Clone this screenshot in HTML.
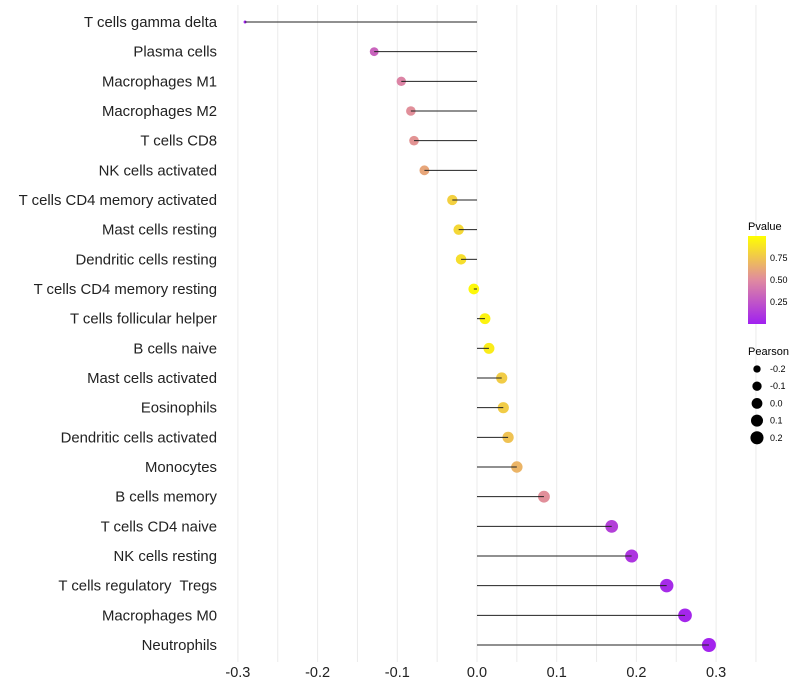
<!DOCTYPE html>
<html><head><meta charset="utf-8"><style>
body{margin:0;background:#fff;font-family:"Liberation Sans",sans-serif}
text{white-space:pre}
</style></head><body>
<svg id="c" width="800" height="700" style="display:block">
<defs><linearGradient id="pg" x1="0" y1="1" x2="0" y2="0">
<stop offset="0" stop-color="#a020f0"/><stop offset="0.5" stop-color="#e08aa0"/><stop offset="1" stop-color="#ffff00"/></linearGradient></defs>
<g id="grid"></g><g id="marks"></g><g id="labels"></g>
<g>
<text x="748" y="230" font-size="11">Pvalue</text>
<rect x="748" y="236" width="18" height="88" fill="url(#pg)"/>
<text x="770" y="261" font-size="9">0.75</text>
<text x="770" y="283" font-size="9">0.50</text>
<text x="770" y="305" font-size="9">0.25</text>
</g>
<g id="sizeLegend">
<text x="748" y="355" font-size="11">Pearson</text>
</g>
</svg>
<script>
const categories=["T cells gamma delta","Plasma cells","Macrophages M1","Macrophages M2","T cells CD8","NK cells activated","T cells CD4 memory activated","Mast cells resting","Dendritic cells resting","T cells CD4 memory resting","T cells follicular helper","B cells naive","Mast cells activated","Eosinophils","Dendritic cells activated","Monocytes","B cells memory","T cells CD4 naive","NK cells resting","T cells regulatory  Tregs","Macrophages M0","Neutrophils"];
const pearson=[-0.291,-0.129,-0.095,-0.083,-0.079,-0.066,-0.031,-0.023,-0.020,-0.004,0.010,0.015,0.031,0.033,0.039,0.050,0.084,0.169,0.194,0.238,0.261,0.291];
const pvalue=[0.0,0.32,0.47,0.52,0.54,0.62,0.8,0.83,0.86,0.97,0.95,0.92,0.78,0.78,0.74,0.68,0.52,0.15,0.1,0.05,0.03,0.02];
const xTicks=[-0.3,-0.2,-0.1,0.0,0.1,0.2,0.3];
const xTickLabels=["-0.3","-0.2","-0.1","0.0","0.1","0.2","0.3"];
const sizeLegend=[-0.2,-0.1,0.0,0.1,0.2];
const sizeLegendLabels=["-0.2","-0.1","0.0","0.1","0.2"];
const NS="http://www.w3.org/2000/svg";
const x=v=>477+v*797;
const y=i=>22+i*(623/21);
const r=v=>1.5+5.5*Math.sqrt(Math.max(0,(v+0.291)/0.582));
function col(p){const a=[160,32,240],b=[224,138,160],c=[255,255,0];let s,e,t;if(p<0.5){s=a;e=b;t=p/0.5}else{s=b;e=c;t=(p-0.5)/0.5}return "rgb("+s.map((q,k)=>Math.round(q+(e[k]-q)*t)).join(",")+")";}
function mk(tag,at,par){const el=document.createElementNS(NS,tag);for(const k in at)el.setAttribute(k,at[k]);par.appendChild(el);return el;}
const grid=document.getElementById('grid'),marks=document.getElementById('marks'),labels=document.getElementById('labels');
for(let v=-0.3;v<=0.3501;v+=0.05){const g=mk('line',{x1:x(v),x2:x(v),y1:5,y2:662,stroke:'#ebebeb','stroke-width':1},grid);}
xTicks.forEach((t,i)=>{const tx=mk('text',{x:x(t),y:677,'font-size':14.5,'text-anchor':'middle',fill:'#222'},labels);tx.textContent=xTickLabels[i];});
categories.forEach((c,i)=>{
const tx=mk('text',{x:217,y:y(i)+5,'font-size':14.9,'text-anchor':'end',fill:'#222'},labels);tx.textContent=c;

const pt=mk('circle',{cx:x(pearson[i]),cy:y(i),r:r(pearson[i]),fill:col(pvalue[i])},marks);

const ln=mk('line',{x1:x(0),x2:x(pearson[i]),y1:y(i),y2:y(i),stroke:'#222','stroke-width':1},marks);

});
const sl=document.getElementById('sizeLegend');
sizeLegend.forEach((v,i)=>{const yy=369+i*17.2;
const cc=mk('circle',{cx:757,cy:yy,r:r(v),fill:'#000'},sl);
const t=mk('text',{x:770,y:yy+3,'font-size':9},sl);t.textContent=sizeLegendLabels[i];});
</script>
</body></html>
